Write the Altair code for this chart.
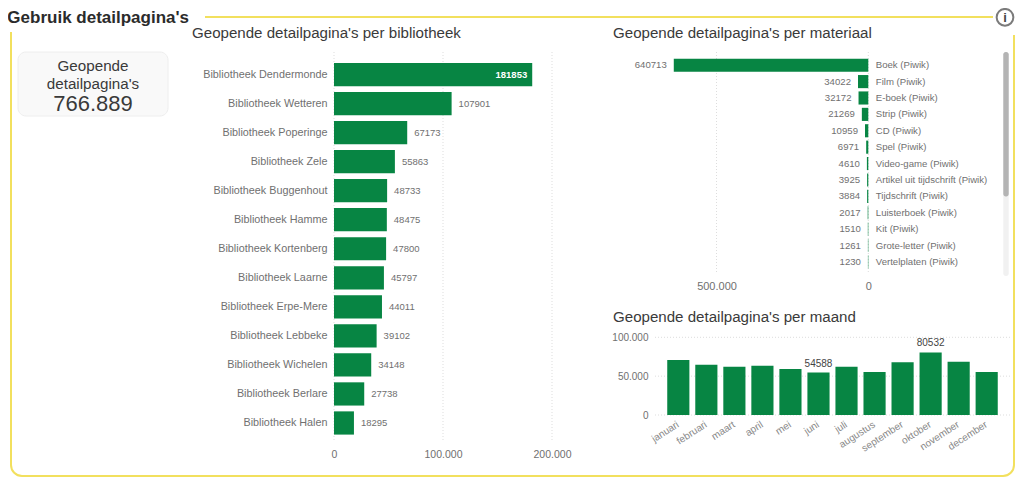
import altair as alt
import pandas as pd

HEADER = "Gebruik detailpagina's"
TITLE_LIB = "Geopende detailpagina's per bibliotheek"
TITLE_MAT = "Geopende detailpagina's per materiaal"
TITLE_MONTH = "Geopende detailpagina's per maand"
KPI_LINES = ["Geopende", "detailpagina's", "766.889"]

libraries = ["Bibliotheek Dendermonde", "Bibliotheek Wetteren", "Bibliotheek Poperinge", "Bibliotheek Zele",
             "Bibliotheek Buggenhout", "Bibliotheek Hamme", "Bibliotheek Kortenberg", "Bibliotheek Laarne",
             "Bibliotheek Erpe-Mere", "Bibliotheek Lebbeke", "Bibliotheek Wichelen", "Bibliotheek Berlare",
             "Bibliotheek Halen"]
library_values = [181853, 107901, 67173, 55863, 48733, 48475, 47800, 45797, 44011, 39102, 34148, 27738, 18295]

materials = ["Boek (Piwik)", "Film (Piwik)", "E-boek (Piwik)", "Strip (Piwik)", "CD (Piwik)", "Spel (Piwik)",
             "Video-game (Piwik)", "Artikel uit tijdschrift (Piwik)", "Tijdschrift (Piwik)", "Luisterboek (Piwik)",
             "Kit (Piwik)", "Grote-letter (Piwik)", "Vertelplaten (Piwik)"]
material_values = [640713, 34022, 32172, 21269, 10959, 6971, 4610, 3925, 3884, 2017, 1510, 1261, 1230]

months = ["januari", "februari", "maart", "april", "mei", "juni", "juli", "augustus", "september", "oktober",
          "november", "december"]
month_values = [70800, 64800, 62200, 63500, 59200, 54588, 62200, 55400, 67800, 80532, 68600, 55400]
month_labelled = ["juni", "oktober"]

lib_ticks = [0, 100000, 200000]
mat_ticks = [0, 500000]
month_ticks = [0, 50000, 100000]

GREEN = "#078543"
YELLOW = "#f2e05e"
LABEL = "#707070"
DARK = "#3a3a3a"
GRID = "#dddddd"
FONT = "Liberation Sans"
DOTS = "replace(format(datum.value, ','), /,/g, '.')"

W, H = 1008, 470

lib_df = pd.DataFrame({"name": libraries, "value": library_values})
mat_df = pd.DataFrame({"name": materials, "value": material_values})
month_df = pd.DataFrame({"name": months, "value": month_values})
one = pd.DataFrame({"a": [0]})

lib_x = alt.Scale(domain=[0, 200000], range=[326, 544])
lib_y = alt.Scale(domain=libraries, range=[52, 429.5], paddingInner=0.2, paddingOuter=0.1)
mat_x = alt.Scale(domain=[0, 500000], range=[860.3, 708.5])
mat_y = alt.Scale(domain=materials, range=[49, 262.1], paddingInner=0.2, paddingOuter=0.1)
mon_x = alt.Scale(domain=months, range=[656.3, 992.7], paddingInner=0.21, paddingOuter=0.105)
mon_y = alt.Scale(domain=[0, 100000], range=[407, 329.3])


def box(x, x2, y, y2, **kw):
    return alt.Chart(one).mark_rect(**kw).encode(
        x=alt.value(x), x2=alt.value(x2), y=alt.value(y), y2=alt.value(y2))


def label(text, x, y, size, color=DARK, align="left", weight="normal"):
    return alt.Chart(one).mark_text(text=text, font=FONT, fontSize=size, color=color, align=align,
                                    baseline="middle", fontWeight=weight).encode(
        x=alt.value(x), y=alt.value(y))


def tick_df(ticks):
    return pd.DataFrame({"t": ticks})


layers = [
    # frame
    box(3, 1006, 9, 468, fill="transparent", stroke=YELLOW, strokeWidth=2, cornerRadius=11),
    box(0, 197, 0, 24, fill="white"),
    box(985, 1008, 0, 27, fill="white"),
    label(HEADER, 181, 9.5, 17, color="#2b2b2b", align="right", weight="bold"),
    alt.Chart(one).mark_point(filled=False, size=280, stroke="#444444", strokeWidth=2).encode(
        x=alt.value(997), y=alt.value(9.3)),
    label("i", 997, 9.5, 13, color="#444444", align="center", weight="bold"),
    # KPI card
    box(10, 160, 44, 108, fill="#f9f9f9", stroke="#eeeeee", cornerRadius=8),
    label(KPI_LINES[0], 85, 57.5, 15.2, align="center"),
    label(KPI_LINES[1], 85, 76, 15.2, align="center"),
    label(KPI_LINES[2], 85, 96, 22, align="center"),
    # titles
    label(TITLE_LIB, 184, 24.5, 15.1),
    label(TITLE_MAT, 605, 24.5, 15.1),
    label(TITLE_MONTH, 605, 308.5, 15.1),
    # library grid, bars, labels
    alt.Chart(tick_df(lib_ticks)).mark_rule(color=GRID, strokeDash=[1, 2]).encode(
        x=alt.X("t:Q", scale=lib_x, axis=None), y=alt.value(44), y2=alt.value(434)),
    alt.Chart(lib_df).mark_bar(color=GREEN).encode(
        x=alt.X("value:Q", scale=lib_x,
                axis=alt.Axis(title=None, orient="bottom", values=lib_ticks, grid=False, domain=False, ticks=False,
                              labelExpr=DOTS, labelFont=FONT, labelFontSize=10.5, labelColor=LABEL,
                              labelFlush=False, labelOverlap=False,
                              offset=-(H - 439), labelPadding=2)),
        y=alt.Y("name:N", scale=lib_y, sort=None,
                axis=alt.Axis(title=None, orient="left", grid=False, domain=False, ticks=False, labelFont=FONT,
                              labelFontSize=10.8, labelColor=LABEL, offset=-326, labelPadding=7,
                              labelLimit=200))),
    alt.Chart(lib_df[lib_df.value < 150000]).mark_text(font=FONT, fontSize=9.5, color=LABEL, align="left", dx=7,
                                                        baseline="middle").encode(
        x=alt.X("value:Q", scale=lib_x, axis=None), y=alt.Y("name:N", scale=lib_y, sort=None, axis=None),
        text="value:Q"),
    alt.Chart(lib_df[lib_df.value >= 150000]).mark_text(font=FONT, fontSize=9.5, color="white", align="right", dx=-5,
                                                         baseline="middle", fontWeight="bold").encode(
        x=alt.X("value:Q", scale=lib_x, axis=None), y=alt.Y("name:N", scale=lib_y, sort=None, axis=None),
        text="value:Q"),
    # material grid, bars, labels
    alt.Chart(tick_df(mat_ticks)).mark_rule(color=GRID, strokeDash=[1, 2]).encode(
        x=alt.X("t:Q", scale=mat_x, axis=None), y=alt.value(44), y2=alt.value(266)),
    alt.Chart(mat_df).mark_bar(color=GREEN).encode(
        x=alt.X("value:Q", scale=mat_x,
                axis=alt.Axis(title=None, orient="bottom", values=mat_ticks, grid=False, domain=False, ticks=False,
                              labelExpr=DOTS, labelFont=FONT, labelFontSize=11, labelColor=LABEL,
                              labelFlush=False, labelOverlap=False,
                              offset=-(H - 270), labelPadding=2)),
        y=alt.Y("name:N", scale=mat_y, sort=None,
                axis=alt.Axis(title=None, orient="right", grid=False, domain=False, ticks=False, labelFont=FONT,
                              labelFontSize=9.6, labelColor=LABEL, offset=860.3 - W, labelPadding=7,
                              labelLimit=200))),
    alt.Chart(mat_df).mark_text(font=FONT, fontSize=9.6, color=LABEL, align="right", dx=-7, baseline="middle").encode(
        x=alt.X("value:Q", scale=mat_x, axis=None), y=alt.Y("name:N", scale=mat_y, sort=None, axis=None),
        text="value:Q"),
    # scrollbar
    box(995.3, 1000.7, 44, 268, fill="#f1f1f1", cornerRadius=2.5),
    box(995.3, 1000.7, 44, 188.5, fill="#b4b4b4", cornerRadius=2.5),
    # month grid, bars, labels
    alt.Chart(tick_df(month_ticks)).mark_rule(color=GRID, strokeDash=[1, 2]).encode(
        y=alt.Y("t:Q", scale=mon_y,
                axis=alt.Axis(title=None, orient="left", values=month_ticks, grid=False, domain=False, ticks=False,
                              labelExpr=DOTS, labelFont=FONT, labelFontSize=10, labelColor=LABEL,
                              labelFlush=False, labelOverlap=False,
                              offset=-646, labelPadding=6)),
        x=alt.value(647), x2=alt.value(1002)),
    alt.Chart(month_df).mark_bar(color=GREEN).encode(
        x=alt.X("name:N", scale=mon_x, sort=None,
                axis=alt.Axis(title=None, orient="bottom", grid=False, domain=False, ticks=False, labelFont=FONT,
                              labelFontSize=10, labelColor="#888888", labelAngle=-33, labelAlign="right",
                              labelBaseline="top", labelOverlap=False, labelOffset=-3,
                              offset=-(H - 407), labelPadding=4)),
        y=alt.Y("value:Q", scale=mon_y, axis=None)),
    alt.Chart(month_df[month_df.name.isin(month_labelled)]).mark_text(font=FONT, fontSize=10, color="#444444",
                                                                       align="center", dy=-9,
                                                                       baseline="middle").encode(
        x=alt.X("name:N", scale=mon_x, sort=None, axis=None),
        y=alt.Y("value:Q", scale=mon_y, axis=None),
        text="value:Q"),
]

chart = alt.layer(*layers).resolve_scale(x="independent", y="independent").resolve_axis(
    x="independent", y="independent"
).properties(
    width=W, height=H, padding=0, autosize=alt.AutoSizeParams(type="none"), background="white"
).configure_view(stroke=None)

chart.save("out.html", embed_options={"renderer": "svg", "actions": False})
